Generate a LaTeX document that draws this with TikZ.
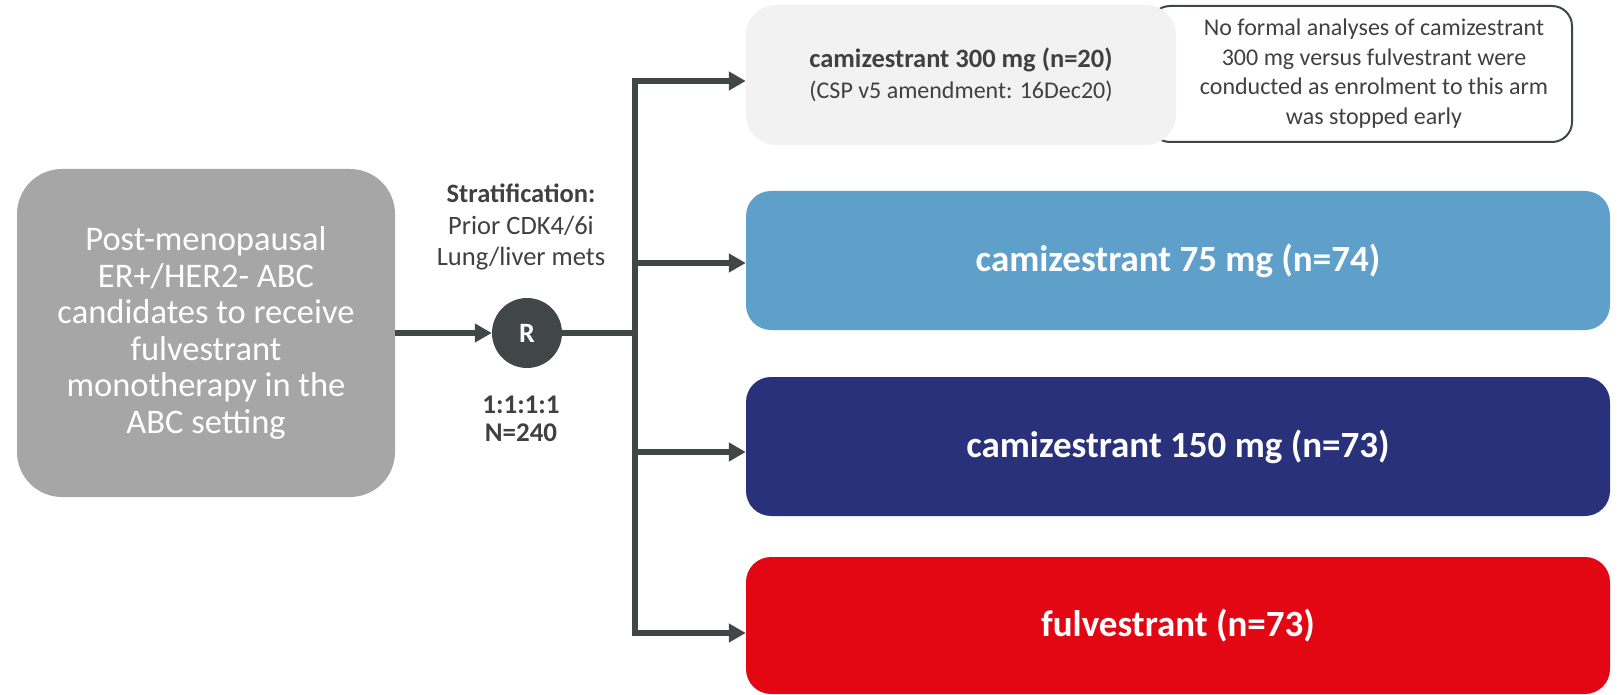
\documentclass[tikz,border=0pt]{standalone}
\usepackage{fontspec}
\setmainfont{Carlito}
\usepackage{tikz}
\usetikzlibrary{arrows.meta,positioning,calc}
\definecolor{popGray}{HTML}{A6A6A6}
\definecolor{darkLine}{HTML}{414646}
\definecolor{lightArm}{HTML}{F2F2F2}
\definecolor{armBlue}{HTML}{5FA0CA}
\definecolor{armNavy}{HTML}{29317A}
\definecolor{armRed}{HTML}{E30613}
\definecolor{textGray}{HTML}{404040}

\begin{document}
\begin{tikzpicture}[
    x=1pt, y=-1pt,
    popbox/.style={draw=none, rectangle, rounded corners=45pt, fill=popGray, minimum width=378pt, minimum height=328pt, align=center, text=white, font=\fontsize{34.5}{36.5}\selectfont},
    randc/.style={circle, fill=darkLine, minimum size=70pt, inner sep=0pt, text=white, font=\bfseries\fontsize{28}{32}\selectfont},
    label/.style={align=center, text=textGray, font=\fontsize{26.5}{31.5}\selectfont},
    armbox/.style={rectangle, rounded corners=25pt, minimum width=864pt, minimum height=139pt, align=center, text=white, font=\bfseries\fontsize{37}{40}\selectfont},
    topbox/.style={rectangle, rounded corners=30pt, fill=lightArm, minimum width=430pt, minimum height=140pt, align=center, text=textGray, font=\fontsize{24}{31}\selectfont},
    notebox/.style={draw=darkLine, line width=2pt, rectangle, rounded corners=20pt, fill=white, minimum width=422pt, minimum height=136pt, align=center, text=textGray, font=\fontsize{24}{29.5}\selectfont},
    link/.style={draw=darkLine, line width=6.5pt},
    arrow/.style={-{Triangle[length=17pt,width=18pt]}, draw=darkLine, line width=6.5pt}
]
    \useasboundingbox (0,0) rectangle (1618,695);

    \node[popbox] (pop) at (206,333) {Post-menopausal\\ER+/HER2- ABC\\candidates to receive\\fulvestrant\\monotherapy in the\\ABC setting};
    \node[randc] (rand) at (527,333) {R};
    \node[label] (strat) at (521,227) {\textbf{Stratification:}\\Prior CDK4/6i\\Lung/liver mets};
    \node[label, font=\bfseries\fontsize{27}{28.5}\selectfont] (ratio) at (521,419) {1:1:1:1\\N=240};

    % arms
    \node[notebox] (note) at (1361,74) {\hspace*{26pt}\begin{tabular}{@{}c@{}}No formal analyses of camizestrant\\300 mg versus fulvestrant were\\conducted as enrolment to this arm\\was stopped early\end{tabular}};
    \node[topbox] (arm1) at (961,75) {{\bfseries\fontsize{26.5}{31}\selectfont camizestrant 300 mg (n=20)}\\(CSP v5 amendment: 16Dec20)};
    \node[armbox, fill=armBlue] (arm2) at (1178,260.5) {camizestrant 75 mg (n=74)};
    \node[armbox, fill=armNavy] (arm3) at (1178,446.5) {camizestrant 150 mg (n=73)};
    \node[armbox, fill=armRed, minimum height=137pt] (arm4) at (1178,625.5) {fulvestrant (n=73)};

    \coordinate (split) at (635,333);
    \coordinate (b1) at (635,81);
    \coordinate (b2) at (635,263);
    \coordinate (b3) at (635,452);
    \coordinate (b4) at (635,633);

    \draw[arrow] (pop) -- (rand);
    \draw[link] (rand) -- (split);
    \draw[arrow] (b4) -- (b1) -- (b1 -| arm1.west);
    \draw[arrow] (b1) -- (b4) -- (b4 -| arm4.west);
    \draw[arrow] (b2) -- (b2 -| arm2.west);
    \draw[arrow] (b3) -- (b3 -| arm3.west);
\end{tikzpicture}
\end{document}
